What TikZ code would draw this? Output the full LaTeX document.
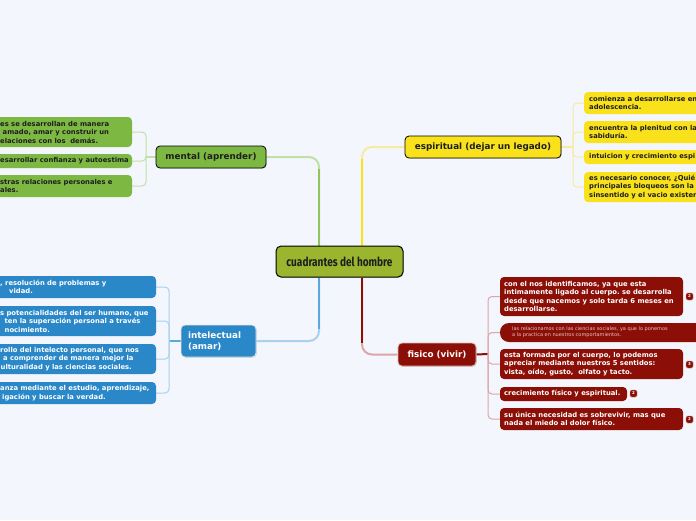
\documentclass[tikz,border=0pt]{standalone}
\usepackage{fontspec}
\setmainfont{DejaVu Sans}
\newfontfamily\cenfont{Fira Sans}
\usetikzlibrary{calc,shadows}
\frenchspacing
\definecolor{bg}{HTML}{F3F6FD}
\definecolor{cen}{HTML}{9CB52F}
\definecolor{grn}{HTML}{7DB942}
\definecolor{grnl}{HTML}{C2DFA6}
\definecolor{grnm}{HTML}{92C65C}
\definecolor{ylw}{HTML}{F9E21B}
\definecolor{ylwl}{HTML}{F7EBA2}
\definecolor{blu}{HTML}{2A88C9}
\definecolor{blul}{HTML}{A9D0EC}
\definecolor{blum}{HTML}{5AA8DE}
\definecolor{dred}{HTML}{8B0F06}
\definecolor{dredl}{HTML}{DCA6A6}
\definecolor{dredt}{HTML}{E6C3C3}
\definecolor{txt}{HTML}{1E1E1E}
\pgfdeclarelayer{bglayer}
\pgfdeclarelayer{lines}
\pgfsetlayers{bglayer,lines,main}
\tikzset{
  every node/.style={inner sep=0pt},
  gbox/.style={fill=grn, rounded corners=4pt},
  ybox/.style={fill=ylw, rounded corners=4pt},
  bbox/.style={fill=blu, rounded corners=4pt},
  rbox/.style={fill=dred, rounded corners=4pt},
  ctext/.style={anchor=west, align=left, font=\fontsize{6.8}{8.5}\selectfont\bfseries},
  branch/.style={rounded corners=4pt, font=\fontsize{8.8}{11.5}\selectfont\bfseries,
    drop shadow={shadow xshift=0.8pt, shadow yshift=-0.8pt, opacity=0.25}},
  badge/.style={fill=dred, draw=dred!55!white, line width=0.4pt, rounded corners=1.5pt,
    minimum width=7pt, minimum height=7pt, text=white, font=\fontsize{4}{4}\selectfont\bfseries},
  mainline/.style={line width=2pt},
  subline/.style={line width=1pt, rounded corners=4pt},
}
\begin{document}
\begin{tikzpicture}[x=1pt,y=-1pt]
\useasboundingbox (0,0) rectangle (696,520);
\begin{pgfonlayer}{bglayer}
\fill[bg] (0,0) rectangle (696,520);
\end{pgfonlayer}
\clip (0,0) rectangle (696,520);

% central
\node[fill=cen, draw=black, line width=1pt, rounded corners=5pt, minimum width=127pt, minimum height=31pt,
  drop shadow={shadow xshift=0.8pt, shadow yshift=-0.8pt, opacity=0.25}, text=txt]
  (central) at (339.5,261.5) {\resizebox{106pt}{9.5pt}{\cenfont\bfseries cuadrantes del hombre}};

% branches
\node[branch, fill=grn, draw=black, line width=0.8pt, minimum width=110pt, minimum height=22pt, text=txt]
  (mental) at (211,157) {mental (aprender)};
\node[branch, fill=ylw, draw=black, line width=0.8pt, minimum width=156pt, minimum height=22pt, text=txt]
  (espiritual) at (483,147) {espiritual (dejar un legado)};
\node[branch, fill=blu, draw=white!80!gray, line width=0.8pt, minimum width=75pt, minimum height=32pt,
  text=white, align=left, text width=61pt] (intelectual) at (218.5,341) {intelectual\\(amar)};
\node[branch, fill=dred, draw=white!70!dred, line width=0.8pt, minimum width=78pt, minimum height=23pt,
  text=white] (fisico) at (437,354.5) {fisico (vivir)};

% mental children
\node[gbox, minimum width=142pt, minimum height=30pt] (m1) at (61,132) {};
\node[gbox, minimum width=142pt, minimum height=14pt] (m2) at (61,161) {};
\node[gbox, minimum width=142pt, minimum height=22pt] (m3) at (61,186) {};
\node[ctext, text=txt] (m1t) at (0,132) {es se desarrollan de manera\\\hspace*{2.5pt}amado, amar y construir un\\elaciones con los\ \ demás.};
\node[ctext, text=txt] (m2t) at (0,161) {esarrollar confianza y autoestima};
\node[ctext, text=txt] (m3t) at (0,186) {stras relaciones personales e\\ales.};

% intelectual children
\node[bbox, minimum width=166pt, minimum height=22pt] (i1) at (73,287) {};
\node[bbox, minimum width=166pt, minimum height=30pt] (i2) at (73,321) {};
\node[bbox, minimum width=166pt, minimum height=30pt] (i3) at (73,359) {};
\node[bbox, minimum width=166pt, minimum height=22pt] (i4) at (73,393) {};
\node[ctext, text=white] (i1t) at (0,287) {, resolución de problemas y\\\hspace*{9pt}vidad.};
\node[ctext, text=white] (i2t) at (0,321) {s potencialidades del ser humano, que\\\hspace*{4.5pt}ten la superación personal a través\\\hspace*{4.5pt}nocimiento.};
\node[ctext, text=white] (i3t) at (0,359) {rollo del intelecto personal, que nos\\\hspace*{3pt}a comprender de manera mejor la\\\hspace*{0.5pt}ulturalidad y las ciencias sociales.};
\node[ctext, text=white] (i4t) at (0,393) {anza mediante el estudio, aprendizaje,\\\hspace*{2pt}igación y buscar la verdad.};

% espiritual children
\node[ybox, minimum width=136pt, minimum height=22pt] (e1) at (652,103) {};
\node[ybox, minimum width=136pt, minimum height=22pt] (e2) at (652,132) {};
\node[ybox, minimum width=136pt, minimum height=14pt] (e3) at (652,157) {};
\node[ybox, minimum width=136pt, minimum height=30pt] (e4) at (652,187) {};
\node[ctext, text=txt] (e1t) at (589,103) {comienza a desarrollarse en\\adolescencia.};
\node[ctext, text=txt] (e2t) at (589,132) {encuentra la plenitud con la\\sabiduría.};
\node[ctext, text=txt] (e3t) at (589,157) {intuicion y crecimiento espi};
\node[ctext, text=txt] (e4t) at (589,187) {es necesario conocer, ¿Quié\\principales bloqueos son la\\sinsentido y el vacio existen};

% fisico children
\node[rbox, minimum width=183pt, minimum height=39pt] (f1) at (591.5,296.5) {};
\node[fill=dred, rounded corners=9pt, minimum width=220pt, minimum height=19pt] (f2) at (610,332.5) {};
\node[rbox, minimum width=183pt, minimum height=30pt] (f3) at (591.5,364) {};
\node[rbox, minimum width=127pt, minimum height=14pt] (f4) at (563.5,394) {};
\node[rbox, minimum width=183pt, minimum height=22pt] (f5) at (591.5,419) {};
\node[ctext, text=white] (f1t) at (504,296.5) {con el nos identificamos, ya que esta\\intimamente ligado al cuerpo. se desarrolla\\desde que nacemos y solo tarda 6 meses en\\desarrollarse.};
\node[anchor=west, align=left, text=dredt, font=\fontsize{5}{6.2}\selectfont] (f2t) at (512,332.5) {las relacionamos con las ciencias sociales, ya que lo ponemos\\a la practica en nuestros comportamientos.};
\node[ctext, text=white] (f3t) at (504,364) {esta formada por el cuerpo, lo podemos\\apreciar mediante nuestros 5 sentidos:\\vista, oído, gusto,\ \ olfato y tacto.};
\node[ctext, text=white] (f4t) at (504,394) {crecimiento físico y espiritual.};
\node[ctext, text=white] (f5t) at (504,419) {su única necesidad es sobrevivir, mas que\\nada el miedo al dolor físico.};

% badges
\node[badge] (b1) at (689.5,296.5) {2};
\node[badge] (b3) at (689.5,364.5) {3};
\node[badge] (b4) at (633.5,393.5) {2};
\node[badge] (b5) at (689.5,419.5) {2};

% junction coordinates
\coordinate (gx) at (319,0);
\coordinate (yx) at (362,0);
\coordinate (mj) at (146,157);
\coordinate (ij) at (169,341);
\coordinate (ej) at (573,147);
\coordinate (fj) at (488,354);

\begin{pgfonlayer}{lines}
% main connectors
\draw[mainline, grnl, rounded corners=10pt] (central.north -| gx) |- (mental.east);
\draw[mainline, grnm] (central.north -| gx) -- ($(gx |- mental.east)+(0,12)$);
\draw[mainline, ylwl, rounded corners=10pt] (central.north -| yx) |- (espiritual.west);
\draw[mainline, ylw] (central.north -| yx) -- ($(yx |- espiritual.west)+(0,12)$);
\draw[mainline, blul, rounded corners=10pt] (central.south -| gx) |- (intelectual.east);
\draw[mainline, blum] (central.south -| gx) -- ($(gx |- intelectual.east)+(0,-12)$);
\draw[mainline, dredl, rounded corners=10pt] (central.south -| yx) |- (fisico.west);
\draw[mainline, dred] (central.south -| yx) -- ($(yx |- fisico.west)+(0,-12)$);

% mental sub connectors
\draw[line width=1.2pt, grnl] (mental.west) -- (mj);
\draw[subline, grnl] (mj) |- (m1.east);
\draw[subline, grnl] (mj) |- (m2.east);
\draw[subline, grnl] (mj) |- (m3.east);
% intelectual
\draw[line width=1.2pt, blum] (intelectual.west) -- (ij);
\draw[subline, blul] (ij) |- (i1.east);
\draw[subline, blul] (ij) |- (i2.east);
\draw[subline, blul] (ij) |- (i3.east);
\draw[subline, blul] (ij) |- (i4.east);
% espiritual
\draw[line width=1.2pt, ylwl] (espiritual.east) -- (ej);
\draw[subline, ylwl] (ej) |- (e1.west);
\draw[subline, ylwl] (ej) |- (e2.west);
\draw[subline, ylwl] (ej) |- (e3.west);
\draw[subline, ylwl] (ej) |- (e4.west);
% fisico
\draw[line width=2pt, dred] (fisico.east) -- (fj);
\draw[subline, dredl] (fj) |- (f1.west);
\draw[subline, dredl] (fj) |- (f2.west);
\draw[subline, dredl] (fj) |- (f3.west);
\draw[subline, dredl] (fj) |- (f4.west);
\draw[subline, dredl] (fj) |- (f5.west);
\end{pgfonlayer}
\end{tikzpicture}
\end{document}
